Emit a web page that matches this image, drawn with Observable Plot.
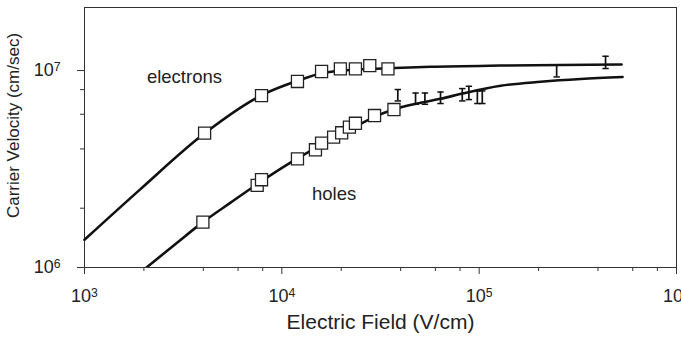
<!DOCTYPE html>
<html><head><meta charset="utf-8">
<script src="https://cdn.jsdelivr.net/npm/d3@7"></script>
<script src="https://cdn.jsdelivr.net/npm/@observablehq/plot@0.6"></script>
<style>body{margin:0;background:#fff} svg{display:block;overflow:hidden}</style>
</head><body><div id="chart"></div>
<script>
// Fitted curves
const electronCurveField = [1000, 1922, 4060, 7890, 12000, 15900, 21000, 34400, 56700, 128400, 259000, 527000];
const electronCurveVel   = [1.383e6, 2.50e6, 4.80e6, 7.49e6, 8.87e6, 9.69e6, 1.003e7, 1.027e7, 1.045e7, 1.06e7, 1.068e7, 1.073e7];
const holeCurveField = [2062, 2893, 3980, 5500, 7800, 12000, 15710, 21000, 29500, 36800, 50500, 63700, 83400, 128400, 205000, 327000, 533000];
const holeCurveVel   = [1.0e6, 1.317e6, 1.70e6, 2.135e6, 2.72e6, 3.58e6, 4.17e6, 4.86e6, 5.82e6, 6.34e6, 6.86e6, 7.19e6, 7.67e6, 8.37e6, 8.77e6, 9.06e6, 9.27e6];
// Measured points (squares)
const electronPtField = [4060, 7890, 12000, 15900, 19800, 23600, 27900, 34500];
const electronPtVel   = [4.81e6, 7.46e6, 8.80e6, 9.89e6, 1.02e7, 1.02e7, 1.06e7, 1.02e7];
const holePtField = [3980, 7500, 7890, 12000, 14800, 15900, 18300, 20100, 22000, 23600, 29500, 37000];
const holePtVel   = [1.70e6, 2.61e6, 2.79e6, 3.56e6, 3.96e6, 4.28e6, 4.59e6, 4.83e6, 5.16e6, 5.40e6, 5.91e6, 6.34e6];
// Error-bar measurements
const electronErrField = [247000, 437000];
const electronErrLo    = [9.28e6, 1.024e7];
const electronErrHi    = [1.064e7, 1.182e7];
const holeErrField = [38700, 47600, 53100, 63700, 82100, 88700, 97900, 103700];
const holeErrLo    = [7.01e6, 6.74e6, 6.74e6, 6.80e6, 7.01e6, 7.12e6, 6.80e6, 6.80e6];
const holeErrHi    = [8.01e6, 7.69e6, 7.69e6, 7.78e6, 8.10e6, 8.32e6, 7.88e6, 7.88e6];
// Labels
const labelText  = ["electrons", "holes"];
const labelField = [3210, 18400];
const labelVel   = [9.28e6, 2.35e6];
// Ticks
const xMajorTicks = [1e3, 1e4, 1e5, 1e6];
const xMinorTicks = [2e3,4e3,6e3,8e3, 2e4,4e4,6e4,8e4, 2e5,4e5,6e5,8e5];
const yMajorTicks = [1e6, 1e7];
const yMinorTicks = [2e6, 4e6, 6e6, 8e6];
const xTitle = "Electric Field (V/cm)";
const yTitle = "Carrier Velocity (cm/sec)";

const zip = (xs, ys) => xs.map((x, i) => ({x, y: ys[i]}));
const zipErr = (xs, lo, hi) => xs.map((x, i) => ({x, lo: lo[i], hi: hi[i]}));
const eCurve = zip(electronCurveField, electronCurveVel);
const hCurve = zip(holeCurveField, holeCurveVel);
const ePts = zip(electronPtField, electronPtVel);
const hPts = zip(holePtField, holePtVel);
const errs = zipErr(electronErrField, electronErrLo, electronErrHi).concat(zipErr(holeErrField, holeErrLo, holeErrHi));
const labels = labelText.map((t, i) => ({t, x: labelField[i], y: labelVel[i]}));

const serif = {draw(ctx) { ctx.moveTo(-3.2, 0); ctx.lineTo(3.2, 0); }};
const pow = d => "10^" + Math.round(Math.log10(d));
const ink = "#111";

const chart = Plot.plot({
  width: 681, height: 337,
  marginLeft: 84, marginRight: 5, marginTop: 7, marginBottom: 70,
  style: {fontFamily: "'Liberation Sans', Arial, Helvetica, sans-serif", background: "#fff", color: "#222"},
  x: {type: "log", domain: [1e3, 1e6]},
  y: {type: "log", domain: [1e6, 2.09e7]},
  marks: [
    Plot.axisX(xMinorTicks, {tickSize: 4, tickFormat: () => "", stroke: "#333", label: null}),
    Plot.axisX(xMajorTicks, {tickSize: 7, tickPadding: 15, tickFormat: pow, fontSize: 18, fill: "#222", stroke: "#333", label: null}),
    Plot.axisY(yMinorTicks, {tickSize: 4, tickFormat: () => "", stroke: "#333", label: null}),
    Plot.axisY(yMajorTicks, {tickSize: 7, tickPadding: 17, tickFormat: pow, fontSize: 18, fill: "#222", stroke: "#333", label: null}),
    Plot.frame({stroke: "#333", strokeWidth: 1}),
    Plot.line(eCurve, {x: "x", y: "y", curve: "monotone-x", stroke: ink, strokeWidth: 2.6}),
    Plot.line(hCurve, {x: "x", y: "y", curve: "monotone-x", stroke: ink, strokeWidth: 2.6, clip: true}),
    Plot.ruleX(errs, {x: "x", y1: "lo", y2: "hi", stroke: ink, strokeWidth: 1.7}),
    Plot.dot(errs, {x: "x", y: "lo", symbol: serif, r: 3, stroke: ink, strokeWidth: 1.5}),
    Plot.dot(errs, {x: "x", y: "hi", symbol: serif, r: 3, stroke: ink, strokeWidth: 1.5}),
    Plot.dot(ePts, {x: "x", y: "y", symbol: "square", r: 6.8, fill: "#fff", stroke: "#222", strokeWidth: 1.3}),
    Plot.dot(hPts, {x: "x", y: "y", symbol: "square", r: 6.8, fill: "#fff", stroke: "#222", strokeWidth: 1.3}),
    Plot.text(labels, {x: "x", y: "y", text: "t", fontSize: 18.5, fill: "#222"}),
    Plot.text([xTitle], {frameAnchor: "bottom", lineAnchor: "middle", textAnchor: "middle", dy: 55, fontSize: 21, fill: "#222"}),
    Plot.text([yTitle], {frameAnchor: "left", rotate: -90, textAnchor: "middle", lineAnchor: "middle", dx: -71, dy: -12, fontSize: 17, fill: "#222"})
  ]
});

d3.select(chart).selectAll("text").each(function() {
  const t = this.textContent;
  if (/^10\^\d$/.test(t)) {
    const exp = t.split("^")[1];
    const sel = d3.select(this);
    sel.text("10");
    sel.append("tspan").attr("dy", "-0.42em").attr("font-size", "0.68em").text(exp);
  }
});
document.getElementById("chart").appendChild(chart);
</script>
</body></html>
